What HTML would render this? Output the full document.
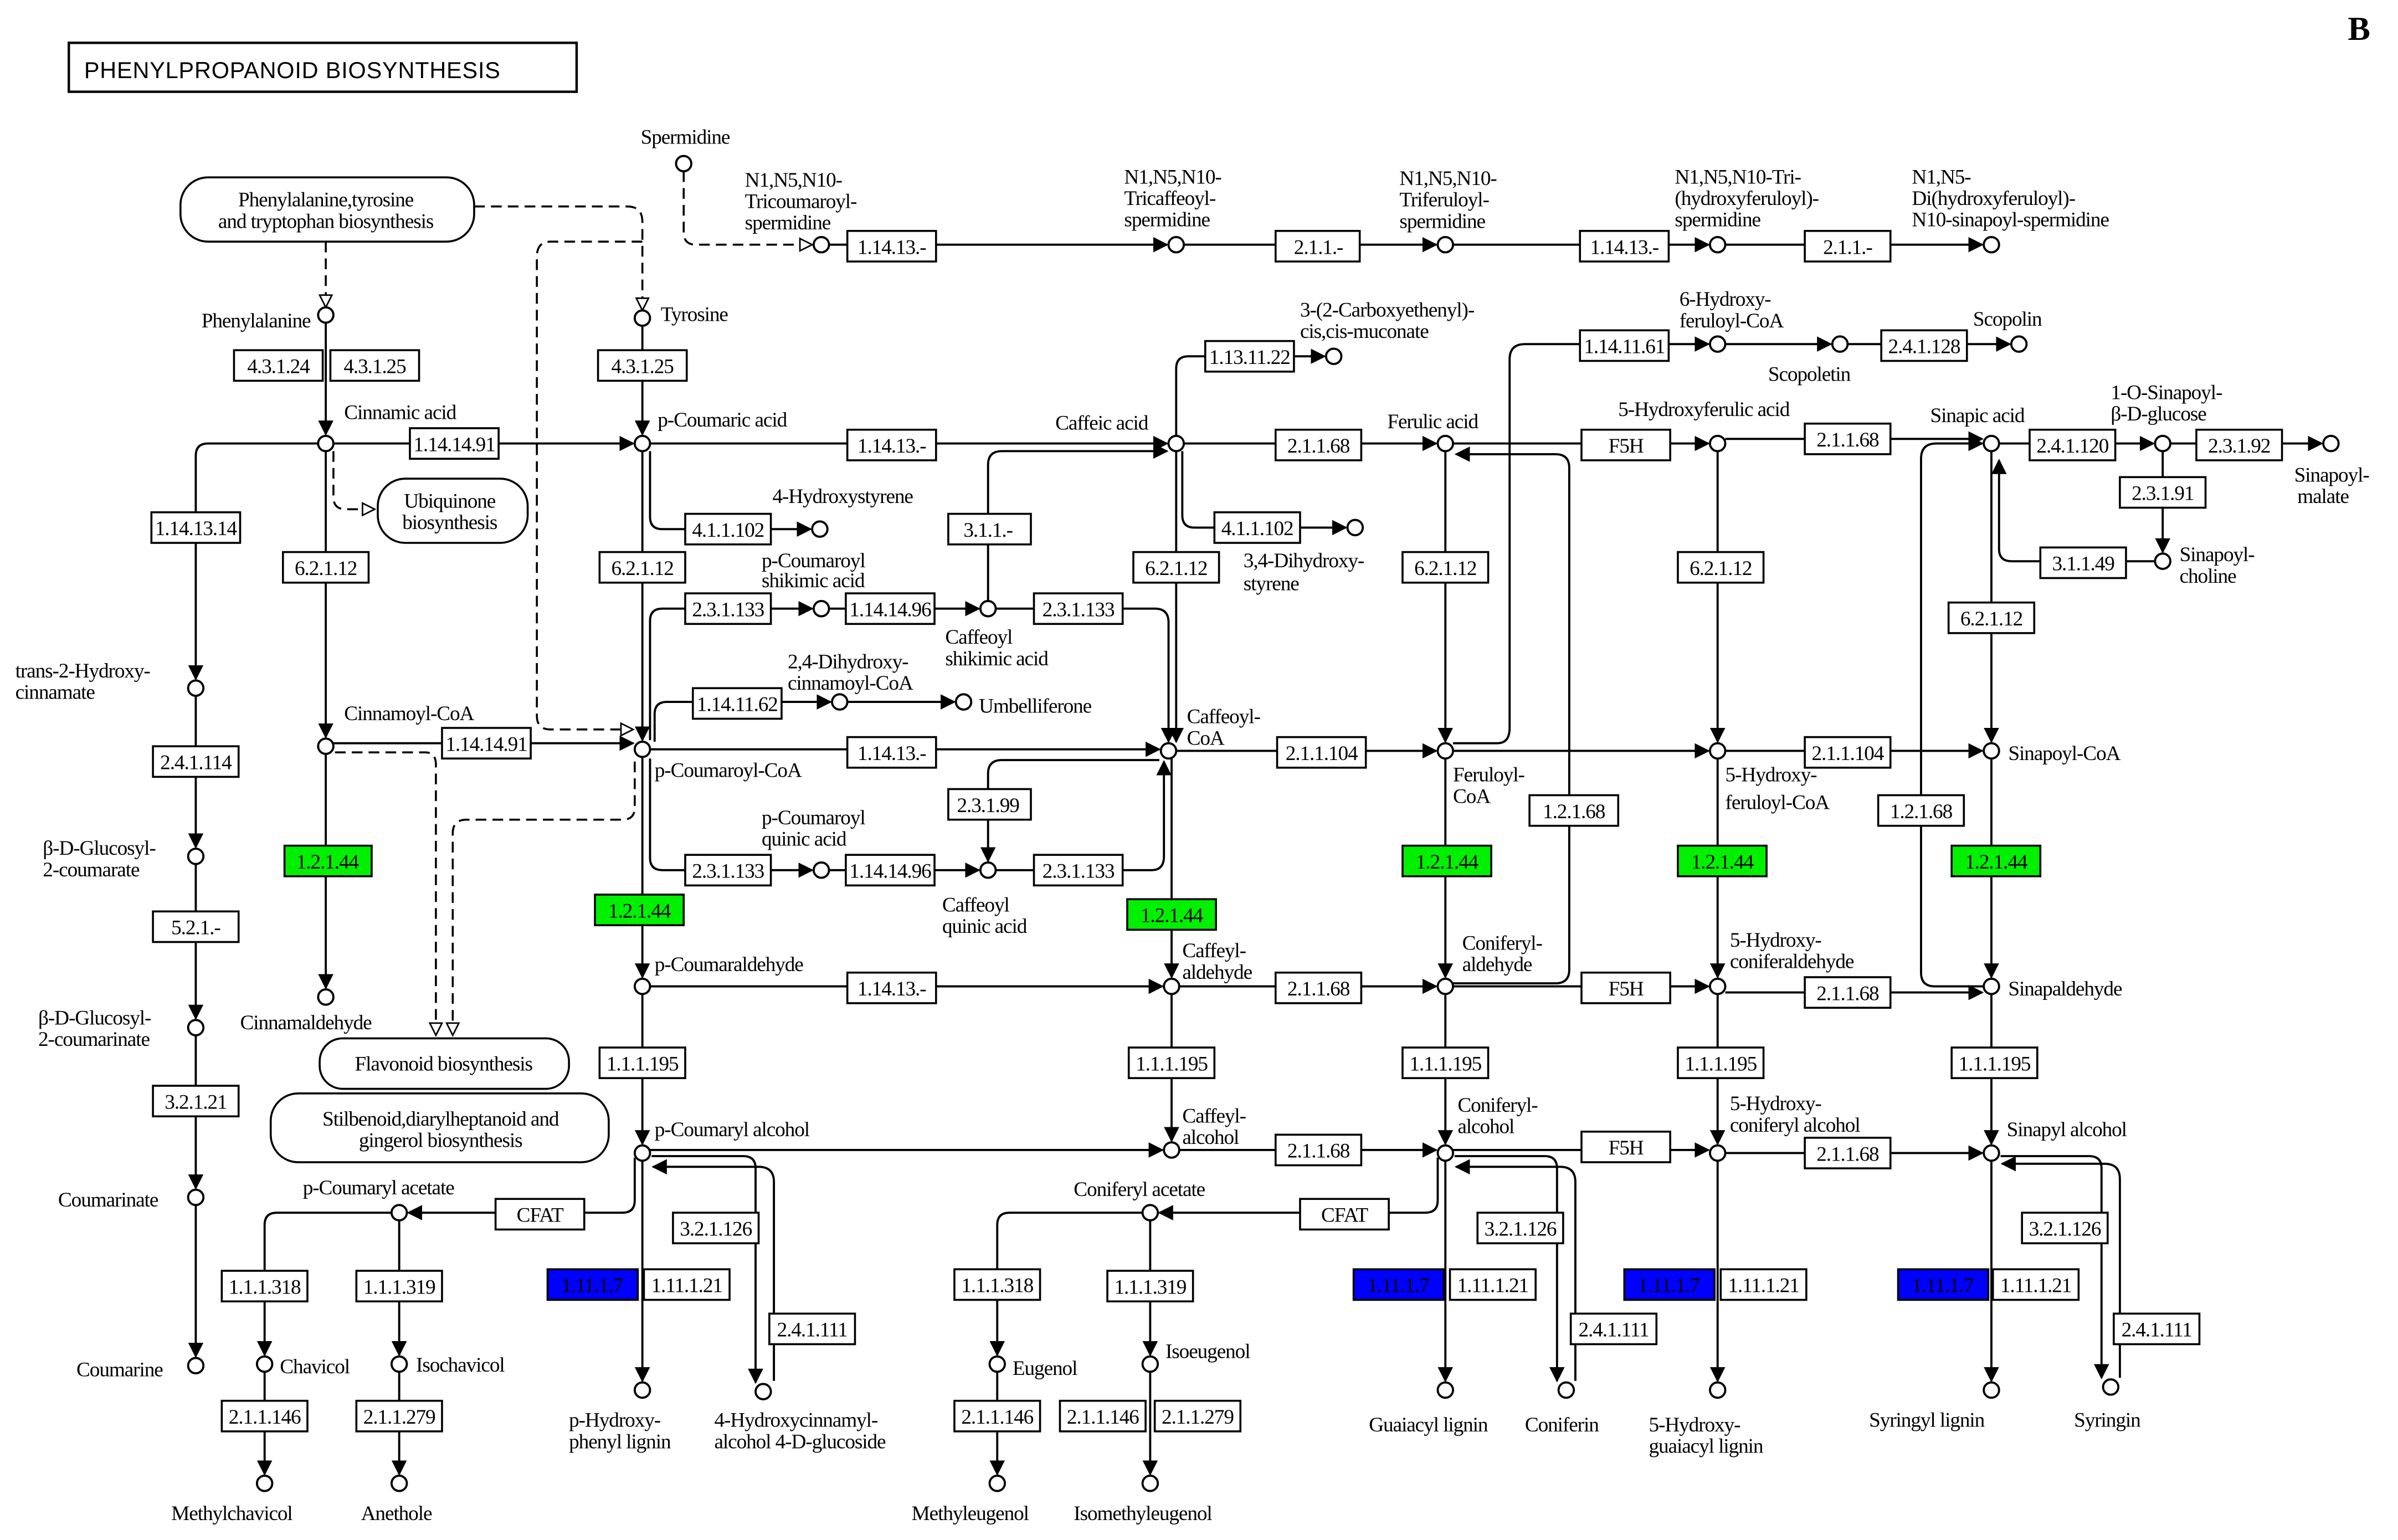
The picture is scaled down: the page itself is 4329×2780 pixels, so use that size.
<!DOCTYPE html>
<html><head><meta charset="utf-8"><style>
html,body{margin:0;padding:0;background:#fff}
svg{display:block}
text{font-family:"Liberation Serif",serif;font-size:13.5px;fill:#000;letter-spacing:-0.4px}
.b rect{fill:#fff;stroke:#000;stroke-width:1.3}
.b text,.g text,.u text{text-anchor:middle;font-size:13.5px}
.g rect{fill:#00f000;stroke:#000;stroke-width:1.3}
.u rect{fill:#0000ff;stroke:#000;stroke-width:1.3}
.l{fill:none;stroke:#000;stroke-width:1.4}
.a{fill:none;stroke:#000;stroke-width:1.4;marker-end:url(#ar)}
.d{fill:none;stroke:#000;stroke-width:1.3;stroke-dasharray:7,4}
.do{fill:none;stroke:#000;stroke-width:1.3;stroke-dasharray:7,4;marker-end:url(#oa)}
circle{fill:#fff;stroke:#000;stroke-width:1.4}
.m{text-anchor:middle}
</style></head><body>
<svg width="4329" height="2780" viewBox="0 0 1560 1002" preserveAspectRatio="none" xmlns="http://www.w3.org/2000/svg">
<defs>
<marker id="ar" markerWidth="10" markerHeight="10" refX="9" refY="5" orient="auto" markerUnits="userSpaceOnUse"><path d="M0,0 L10,5 L0,10 z" fill="#000"/></marker>
<marker id="oa" markerWidth="10" markerHeight="10" refX="9" refY="5" orient="auto" markerUnits="userSpaceOnUse"><path d="M1,1 L9,5 L1,9 z" fill="#fff" stroke="#000" stroke-width="1"/></marker>
</defs>
<rect width="1560" height="1002" fill="#fff"/>
<g transform="scale(0.995)">
<rect x="45" y="28" width="332" height="32" fill="#fff" stroke="#000" stroke-width="1.6"/>
<text x="55" y="51" style="font-family:'Liberation Sans',sans-serif;font-size:15px;letter-spacing:0.3px">PHENYLPROPANOID BIOSYNTHESIS</text>
<text x="1535" y="26" style="font-size:22px;font-weight:bold">B</text>

<rect x="118" y="116" width="192" height="42" rx="18" fill="#fff" stroke="#000" stroke-width="1.3"/>
<text x="213" y="135" class="m">Phenylalanine,tyrosine</text><text x="213" y="149" class="m">and tryptophan biosynthesis</text>
<rect x="247" y="313" width="98" height="42" rx="18" fill="#fff" stroke="#000" stroke-width="1.3"/>
<text x="294" y="332" class="m">Ubiquinone</text><text x="294" y="346" class="m">biosynthesis</text>
<rect x="209" y="679" width="163" height="33" rx="15" fill="#fff" stroke="#000" stroke-width="1.3"/>
<text x="290" y="700" class="m">Flavonoid biosynthesis</text>
<rect x="177" y="715" width="221" height="45" rx="18" fill="#fff" stroke="#000" stroke-width="1.3"/>
<text x="288" y="736" class="m">Stilbenoid,diarylheptanoid and</text><text x="288" y="750" class="m">gingerol biosynthesis</text>

<path class="do" d="M213,158 V201"/>
<path class="do" d="M310,135 H410 Q420,135 420,145 V203"/>
<path class="do" d="M447,112 V152 Q447,160 455,160 H531"/>
<path class="d" d="M420,158 H360 Q351,158 351,168 V468 Q351,477 360,477 H405"/>
<path class="do" d="M405,477 H414"/>
<path class="do" d="M218,295 V325 Q218,333 226,333 H245"/>
<path class="do" d="M219,492 H278 Q285,492 285,500 V677"/>
<path class="do" d="M415,498 V528 Q415,536 407,536 H305 Q296,536 296,545 V677"/>

<path class="a" d="M542,160 H763"/><path class="a" d="M774,160 H939"/><path class="a" d="M950,160 H1117"/><path class="a" d="M1128,160 H1296"/>
<path class="a" d="M218,290 H414"/><path class="a" d="M425,290 H763"/><path class="a" d="M774,290 H939"/><path class="a" d="M950,290 H1117"/><path class="a" d="M1128,287 H1296"/><path class="a" d="M1307,290 H1408"/><path class="a" d="M1419,290 H1518"/>
<path class="a" d="M208,290 H136 Q128,290 128,298 V444"/>
<path class="a" d="M213,211 V284"/><path class="a" d="M420,213 V284"/>
<path class="a" d="M213,295 V482"/><path class="a" d="M420,295 V484"/><path class="a" d="M769,295 V485"/><path class="a" d="M945,295 V485"/><path class="a" d="M1123,295 V485"/><path class="a" d="M1302,295 V485"/>
<path class="a" d="M213,493 V646"/><path class="a" d="M420,495 V639"/><path class="a" d="M766,496 V639"/><path class="a" d="M945,496 V639"/><path class="a" d="M1123,496 V639"/><path class="a" d="M1302,496 V639"/>
<path class="a" d="M420,650 V748"/><path class="a" d="M766,650 V746"/><path class="a" d="M945,650 V748"/><path class="a" d="M1123,650 V748"/><path class="a" d="M1302,650 V748"/>
<path class="a" d="M420,759 V903"/><path class="a" d="M945,759 V903"/><path class="a" d="M1123,759 V903"/><path class="a" d="M1302,759 V903"/>
<path class="a" d="M128,455 V554"/><path class="a" d="M128,565 V666"/><path class="a" d="M128,677 V777"/><path class="a" d="M128,788 V887"/>
<path class="a" d="M218,486 H414"/><path class="a" d="M425,490 H758"/><path class="a" d="M769,491 H939"/><path class="a" d="M950,491 H1117"/><path class="a" d="M1128,491 H1296"/>
<path class="a" d="M425,645 H760"/><path class="a" d="M771,645 H939"/><path class="a" d="M950,645 H1117"/><path class="a" d="M1128,649 H1296"/>
<path class="a" d="M425,752 H760"/><path class="a" d="M771,752 H939"/><path class="a" d="M950,752 H1117"/><path class="a" d="M1128,754 H1296"/>
<path class="a" d="M425,295 V338 Q425,346 433,346 H530"/>
<path class="a" d="M773,295 V337 Q773,345 781,345 H880"/>
<path class="a" d="M769,285 V241 Q769,233 777,233 H866"/>
<path class="a" d="M950,486 H979 Q987,486 987,476 V235 Q987,225 997,225 H1117"/>
<path class="a" d="M1128,225 H1197"/><path class="a" d="M1208,225 H1314"/>
<path class="a" d="M1414,295 V361"/>
<path class="a" d="M1409,367 H1315 Q1307,367 1307,359 V301"/>
<path class="a" d="M1297,645 H1265 Q1256,645 1256,636 V300 Q1256,290 1266,290 H1296"/>
<path class="a" d="M950,643 H1017 Q1026,643 1026,634 V306 Q1026,297 1017,297 H952"/>
<path class="a" d="M425,484 V406 Q425,398 433,398 H531"/><path class="a" d="M542,398 H640"/>
<path class="a" d="M651,398 H755 Q764,398 764,407 V485"/>
<path class="a" d="M646,393 V304 Q646,295 655,295 H763"/>
<path class="a" d="M428,485 V467 Q428,459 436,459 H543"/><path class="a" d="M554,459 H624"/>
<path class="a" d="M425,496 V561 Q425,569 433,569 H531"/><path class="a" d="M542,569 H640"/>
<path class="a" d="M651,569 H753 Q761,569 761,560 V498"/>
<path class="a" d="M758,497 H655 Q646,497 646,506 V563"/>
<path class="a" d="M415,757 V785 Q415,793 407,793 H267"/>
<path class="a" d="M261,798 V886"/><path class="a" d="M256,793 H181 Q173,793 173,801 V886"/>
<path class="a" d="M173,897 V964"/><path class="a" d="M261,897 V964"/>
<path class="a" d="M940,757 V785 Q940,793 932,793 H758"/>
<path class="a" d="M752,798 V886"/><path class="a" d="M747,793 H660 Q652,793 652,801 V886"/>
<path class="a" d="M652,897 V964"/><path class="a" d="M752,897 V964"/>
<path class="a" d="M426,756 H486 Q494,756 494,764 V904"/>
<path class="a" d="M506,903 V773 Q506,763 496,763 H427"/>
<path class="a" d="M951,756 H1010 Q1018,756 1018,764 V903"/>
<path class="a" d="M1030,903 V773 Q1030,763 1020,763 H952"/>
<path class="a" d="M1308,756 H1366 Q1374,756 1374,764 V901"/>
<path class="a" d="M1386,901 V771 Q1386,761 1376,761 H1309"/>

<g>
<circle cx="447" cy="107" r="5"/><circle cx="213" cy="206" r="5"/><circle cx="420" cy="208" r="5"/>
<circle cx="213" cy="290" r="5"/><circle cx="420" cy="290" r="5"/><circle cx="769" cy="290" r="5"/><circle cx="945" cy="290" r="5"/><circle cx="1123" cy="290" r="5"/><circle cx="1302" cy="290" r="5"/><circle cx="1414" cy="290" r="5"/><circle cx="1524" cy="290" r="5"/>
<circle cx="1414" cy="367" r="5"/><circle cx="536" cy="346" r="5"/><circle cx="886" cy="345" r="5"/><circle cx="872" cy="233" r="5"/>
<circle cx="537" cy="160" r="5"/><circle cx="769" cy="160" r="5"/><circle cx="945" cy="160" r="5"/><circle cx="1123" cy="160" r="5"/><circle cx="1302" cy="160" r="5"/>
<circle cx="1123" cy="225" r="5"/><circle cx="1203" cy="225" r="5"/><circle cx="1320" cy="225" r="5"/>
<circle cx="537" cy="398" r="5"/><circle cx="646" cy="398" r="5"/><circle cx="549" cy="459" r="5"/><circle cx="630" cy="459" r="5"/>
<circle cx="213" cy="488" r="5"/><circle cx="420" cy="490" r="5"/><circle cx="764" cy="491" r="5"/><circle cx="945" cy="491" r="5"/><circle cx="1123" cy="491" r="5"/><circle cx="1302" cy="491" r="5"/>
<circle cx="537" cy="569" r="5"/><circle cx="646" cy="569" r="5"/>
<circle cx="213" cy="652" r="5"/><circle cx="420" cy="645" r="5"/><circle cx="766" cy="645" r="5"/><circle cx="945" cy="645" r="5"/><circle cx="1123" cy="645" r="5"/><circle cx="1302" cy="645" r="5"/>
<circle cx="420" cy="754" r="5"/><circle cx="766" cy="752" r="5"/><circle cx="945" cy="754" r="5"/><circle cx="1123" cy="754" r="5"/><circle cx="1302" cy="754" r="5"/>
<circle cx="261" cy="793" r="5"/><circle cx="752" cy="793" r="5"/>
<circle cx="173" cy="892" r="5"/><circle cx="261" cy="892" r="5"/><circle cx="652" cy="892" r="5"/><circle cx="752" cy="892" r="5"/>
<circle cx="173" cy="970" r="5"/><circle cx="261" cy="970" r="5"/><circle cx="652" cy="970" r="5"/><circle cx="752" cy="970" r="5"/>
<circle cx="420" cy="909" r="5"/><circle cx="499" cy="910" r="5"/><circle cx="945" cy="909" r="5"/><circle cx="1024" cy="909" r="5"/><circle cx="1123" cy="909" r="5"/><circle cx="1302" cy="909" r="5"/><circle cx="1380" cy="907" r="5"/>
<circle cx="128" cy="450" r="5"/><circle cx="128" cy="560" r="5"/><circle cx="128" cy="672" r="5"/><circle cx="128" cy="783" r="5"/><circle cx="128" cy="893" r="5"/>
</g>

<g class="b">
<rect x="153" y="229" width="58" height="20"/><text x="182" y="244">4.3.1.24</text>
<rect x="216" y="229" width="58" height="20"/><text x="245" y="244">4.3.1.25</text>
<rect x="391" y="229" width="58" height="20"/><text x="420" y="244">4.3.1.25</text>
<rect x="268" y="280" width="58" height="20"/><text x="297" y="295">1.14.14.91</text>
<rect x="554" y="151" width="58" height="20"/><text x="583" y="166">1.14.13.-</text>
<rect x="834" y="151" width="55" height="20"/><text x="862" y="166">2.1.1.-</text>
<rect x="1033" y="151" width="58" height="20"/><text x="1062" y="166">1.14.13.-</text>
<rect x="1180" y="151" width="56" height="20"/><text x="1208" y="166">2.1.1.-</text>
<rect x="554" y="281" width="58" height="20"/><text x="583" y="296">1.14.13.-</text>
<rect x="834" y="281" width="56" height="20"/><text x="862" y="296">2.1.1.68</text>
<rect x="1034" y="281" width="58" height="20"/><text x="1063" y="296">F5H</text>
<rect x="1180" y="277" width="56" height="20"/><text x="1208" y="292">2.1.1.68</text>
<rect x="1327" y="281" width="56" height="20"/><text x="1355" y="296">2.4.1.120</text>
<rect x="1436" y="281" width="56" height="20"/><text x="1464" y="296">2.3.1.92</text>
<rect x="1386" y="312" width="56" height="20"/><text x="1414" y="327">2.3.1.91</text>
<rect x="1334" y="358" width="56" height="20"/><text x="1362" y="373">3.1.1.49</text>
<rect x="1274" y="394" width="56" height="20"/><text x="1302" y="409">6.2.1.12</text>
<rect x="788" y="223" width="58" height="20"/><text x="817" y="238">1.13.11.22</text>
<rect x="1033" y="216" width="58" height="20"/><text x="1062" y="231">1.14.11.61</text>
<rect x="1230" y="216" width="56" height="20"/><text x="1258" y="231">2.4.1.128</text>
<rect x="99" y="335" width="58" height="20"/><text x="128" y="350">1.14.13.14</text>
<rect x="185" y="361" width="56" height="20"/><text x="213" y="376">6.2.1.12</text>
<rect x="392" y="361" width="56" height="20"/><text x="420" y="376">6.2.1.12</text>
<rect x="741" y="361" width="56" height="20"/><text x="769" y="376">6.2.1.12</text>
<rect x="917" y="361" width="56" height="20"/><text x="945" y="376">6.2.1.12</text>
<rect x="1097" y="361" width="56" height="20"/><text x="1125" y="376">6.2.1.12</text>
<rect x="448" y="336" width="56" height="20"/><text x="476" y="351">4.1.1.102</text>
<rect x="794" y="335" width="56" height="20"/><text x="822" y="350">4.1.1.102</text>
<rect x="620" y="336" width="54" height="20"/><text x="646" y="351">3.1.1.-</text>
<rect x="448" y="388" width="56" height="20"/><text x="476" y="403">2.3.1.133</text>
<rect x="553" y="388" width="58" height="20"/><text x="582" y="403">1.14.14.96</text>
<rect x="676" y="388" width="58" height="20"/><text x="705" y="403">2.3.1.133</text>
<rect x="453" y="450" width="58" height="20"/><text x="482" y="465">1.14.11.62</text>
<rect x="289" y="476" width="58" height="20"/><text x="318" y="491">1.14.14.91</text>
<rect x="554" y="482" width="58" height="20"/><text x="583" y="497">1.14.13.-</text>
<rect x="835" y="482" width="58" height="20"/><text x="864" y="497">2.1.1.104</text>
<rect x="1180" y="482" width="56" height="20"/><text x="1208" y="497">2.1.1.104</text>
<rect x="1000" y="520" width="58" height="20"/><text x="1029" y="535">1.2.1.68</text>
<rect x="1228" y="520" width="56" height="20"/><text x="1256" y="535">1.2.1.68</text>
<rect x="620" y="516" width="54" height="20"/><text x="646" y="531">2.3.1.99</text>
<rect x="100" y="488" width="56" height="20"/><text x="128" y="503">2.4.1.114</text>
<rect x="100" y="596" width="56" height="20"/><text x="128" y="611">5.2.1.-</text>
<rect x="448" y="559" width="56" height="20"/><text x="476" y="574">2.3.1.133</text>
<rect x="553" y="559" width="58" height="20"/><text x="582" y="574">1.14.14.96</text>
<rect x="676" y="559" width="58" height="20"/><text x="705" y="574">2.3.1.133</text>
<rect x="554" y="636" width="58" height="20"/><text x="583" y="651">1.14.13.-</text>
<rect x="834" y="636" width="56" height="20"/><text x="862" y="651">2.1.1.68</text>
<rect x="1034" y="636" width="58" height="20"/><text x="1063" y="651">F5H</text>
<rect x="1180" y="639" width="56" height="20"/><text x="1208" y="654">2.1.1.68</text>
<rect x="392" y="685" width="56" height="20"/><text x="420" y="700">1.1.1.195</text>
<rect x="738" y="685" width="56" height="20"/><text x="766" y="700">1.1.1.195</text>
<rect x="917" y="685" width="56" height="20"/><text x="945" y="700">1.1.1.195</text>
<rect x="1097" y="685" width="56" height="20"/><text x="1125" y="700">1.1.1.195</text>
<rect x="1276" y="685" width="56" height="20"/><text x="1304" y="700">1.1.1.195</text>
<rect x="100" y="710" width="56" height="20"/><text x="128" y="725">3.2.1.21</text>
<rect x="834" y="742" width="56" height="20"/><text x="862" y="757">2.1.1.68</text>
<rect x="1034" y="740" width="58" height="20"/><text x="1063" y="755">F5H</text>
<rect x="1180" y="744" width="56" height="20"/><text x="1208" y="759">2.1.1.68</text>
<rect x="324" y="784" width="58" height="20"/><text x="353" y="799">CFAT</text>
<rect x="850" y="784" width="58" height="20"/><text x="879" y="799">CFAT</text>
<rect x="440" y="793" width="56" height="20"/><text x="468" y="808">3.2.1.126</text>
<rect x="966" y="793" width="56" height="20"/><text x="994" y="808">3.2.1.126</text>
<rect x="1322" y="793" width="56" height="20"/><text x="1350" y="808">3.2.1.126</text>
<rect x="145" y="831" width="56" height="20"/><text x="173" y="846">1.1.1.318</text>
<rect x="233" y="831" width="56" height="20"/><text x="261" y="846">1.1.1.319</text>
<rect x="624" y="830" width="56" height="20"/><text x="652" y="845">1.1.1.318</text>
<rect x="724" y="831" width="56" height="20"/><text x="752" y="846">1.1.1.319</text>
<rect x="421" y="830" width="56" height="20"/><text x="449" y="845">1.11.1.21</text>
<rect x="948" y="830" width="56" height="20"/><text x="976" y="845">1.11.1.21</text>
<rect x="1125" y="830" width="56" height="20"/><text x="1153" y="845">1.11.1.21</text>
<rect x="1303" y="830" width="56" height="20"/><text x="1331" y="845">1.11.1.21</text>
<rect x="503" y="859" width="56" height="20"/><text x="531" y="874">2.4.1.111</text>
<rect x="1027" y="859" width="56" height="20"/><text x="1055" y="874">2.4.1.111</text>
<rect x="1382" y="859" width="56" height="20"/><text x="1410" y="874">2.4.1.111</text>
<rect x="145" y="916" width="56" height="20"/><text x="173" y="931">2.1.1.146</text>
<rect x="233" y="916" width="56" height="20"/><text x="261" y="931">2.1.1.279</text>
<rect x="624" y="916" width="56" height="20"/><text x="652" y="931">2.1.1.146</text>
<rect x="693" y="916" width="56" height="20"/><text x="721" y="931">2.1.1.146</text>
<rect x="755" y="916" width="56" height="20"/><text x="783" y="931">2.1.1.279</text>
</g>
<g class="g">
<rect x="186" y="553" width="57" height="20"/><text x="214" y="568">1.2.1.44</text>
<rect x="389" y="585" width="58" height="20"/><text x="418" y="600">1.2.1.44</text>
<rect x="737" y="588" width="58" height="20"/><text x="766" y="603">1.2.1.44</text>
<rect x="917" y="553" width="58" height="20"/><text x="946" y="568">1.2.1.44</text>
<rect x="1097" y="553" width="58" height="20"/><text x="1126" y="568">1.2.1.44</text>
<rect x="1276" y="553" width="58" height="20"/><text x="1305" y="568">1.2.1.44</text>
</g>
<g class="u">
<rect x="358" y="830" width="59" height="20"/><text x="387" y="845">1.11.1.7</text>
<rect x="885" y="830" width="59" height="20"/><text x="914" y="845">1.11.1.7</text>
<rect x="1062" y="830" width="59" height="20"/><text x="1091" y="845">1.11.1.7</text>
<rect x="1241" y="830" width="59" height="20"/><text x="1270" y="845">1.11.1.7</text>
</g>

<g>
<text x="448" y="94" class="m">Spermidine</text>
<text x="487" y="122">N1,N5,N10-</text><text x="487" y="136">Tricoumaroyl-</text><text x="487" y="150">spermidine</text>
<text x="735" y="120">N1,N5,N10-</text><text x="735" y="134">Tricaffeoyl-</text><text x="735" y="148">spermidine</text>
<text x="915" y="121">N1,N5,N10-</text><text x="915" y="135">Triferuloyl-</text><text x="915" y="149">spermidine</text>
<text x="1095" y="120">N1,N5,N10-Tri-</text><text x="1095" y="134">(hydroxyferuloyl)-</text><text x="1095" y="148">spermidine</text>
<text x="1250" y="120">N1,N5-</text><text x="1250" y="134">Di(hydroxyferuloyl)-</text><text x="1250" y="148">N10-sinapoyl-spermidine</text>
<text x="203" y="214" text-anchor="end">Phenylalanine</text>
<text x="432" y="210">Tyrosine</text>
<text x="225" y="274">Cinnamic acid</text>
<text x="430" y="279">p-Coumaric acid</text>
<text x="690" y="281">Caffeic acid</text>
<text x="907" y="280">Ferulic acid</text>
<text x="1058" y="272">5-Hydroxyferulic acid</text>
<text x="1262" y="276">Sinapic acid</text>
<text x="1380" y="261">1-O-Sinapoyl-</text><text x="1380" y="275">β-D-glucose</text>
<text x="1500" y="315">Sinapoyl-</text><text x="1502" y="329">malate</text>
<text x="1425" y="367">Sinapoyl-</text><text x="1425" y="381">choline</text>
<text x="850" y="207">3-(2-Carboxyethenyl)-</text><text x="850" y="221">cis,cis-muconate</text>
<text x="1098" y="200">6-Hydroxy-</text><text x="1098" y="214">feruloyl-CoA</text>
<text x="1156" y="249">Scopoletin</text><text x="1290" y="213">Scopolin</text>
<text x="505" y="329">4-Hydroxystyrene</text>
<text x="813" y="371">3,4-Dihydroxy-</text><text x="813" y="386">styrene</text>
<text x="498" y="371">p-Coumaroyl</text><text x="498" y="384">shikimic acid</text>
<text x="618" y="421">Caffeoyl</text><text x="618" y="435">shikimic acid</text>
<text x="515" y="437">2,4-Dihydroxy-</text><text x="515" y="451">cinnamoyl-CoA</text>
<text x="640" y="466">Umbelliferone</text>
<text x="10" y="443">trans-2-Hydroxy-</text><text x="10" y="457">cinnamate</text>
<text x="225" y="471">Cinnamoyl-CoA</text>
<text x="428" y="508">p-Coumaroyl-CoA</text>
<text x="776" y="473">Caffeoyl-</text><text x="776" y="487">CoA</text>
<text x="950" y="511">Feruloyl-</text><text x="950" y="525">CoA</text>
<text x="1128" y="511">5-Hydroxy-</text><text x="1128" y="529">feruloyl-CoA</text>
<text x="1313" y="497">Sinapoyl-CoA</text>
<text x="498" y="539">p-Coumaroyl</text><text x="498" y="553">quinic acid</text>
<text x="616" y="596">Caffeoyl</text><text x="616" y="610">quinic acid</text>
<text x="28" y="559">β-D-Glucosyl-</text><text x="28" y="573">2-coumarate</text>
<text x="25" y="670">β-D-Glucosyl-</text><text x="25" y="684">2-coumarinate</text>
<text x="157" y="673">Cinnamaldehyde</text>
<text x="428" y="635">p-Coumaraldehyde</text>
<text x="773" y="626">Caffeyl-</text><text x="773" y="640">aldehyde</text>
<text x="956" y="621">Coniferyl-</text><text x="956" y="635">aldehyde</text>
<text x="1131" y="619">5-Hydroxy-</text><text x="1131" y="633">coniferaldehyde</text>
<text x="1313" y="651">Sinapaldehyde</text>
<text x="428" y="743">p-Coumaryl alcohol</text>
<text x="773" y="734">Caffeyl-</text><text x="773" y="748">alcohol</text>
<text x="953" y="727">Coniferyl-</text><text x="953" y="741">alcohol</text>
<text x="1131" y="726">5-Hydroxy-</text><text x="1131" y="740">coniferyl alcohol</text>
<text x="1312" y="743">Sinapyl alcohol</text>
<text x="38" y="789">Coumarinate</text>
<text x="198" y="781">p-Coumaryl acetate</text>
<text x="702" y="782">Coniferyl acetate</text>
<text x="50" y="900">Coumarine</text>
<text x="183" y="898">Chavicol</text><text x="272" y="897">Isochavicol</text>
<text x="662" y="899">Eugenol</text><text x="762" y="888">Isoeugenol</text>
<text x="372" y="933">p-Hydroxy-</text><text x="372" y="947">phenyl lignin</text>
<text x="467" y="933">4-Hydroxycinnamyl-</text><text x="467" y="947">alcohol 4-D-glucoside</text>
<text x="895" y="936">Guaiacyl lignin</text><text x="997" y="936">Coniferin</text>
<text x="1078" y="936">5-Hydroxy-</text><text x="1078" y="950">guaiacyl lignin</text>
<text x="1222" y="933">Syringyl lignin</text><text x="1356" y="933">Syringin</text>
<text x="112" y="994">Methylchavicol</text><text x="236" y="994">Anethole</text>
<text x="596" y="994">Methyleugenol</text><text x="702" y="994">Isomethyleugenol</text>
</g>
</g>
</svg>
</body></html>
